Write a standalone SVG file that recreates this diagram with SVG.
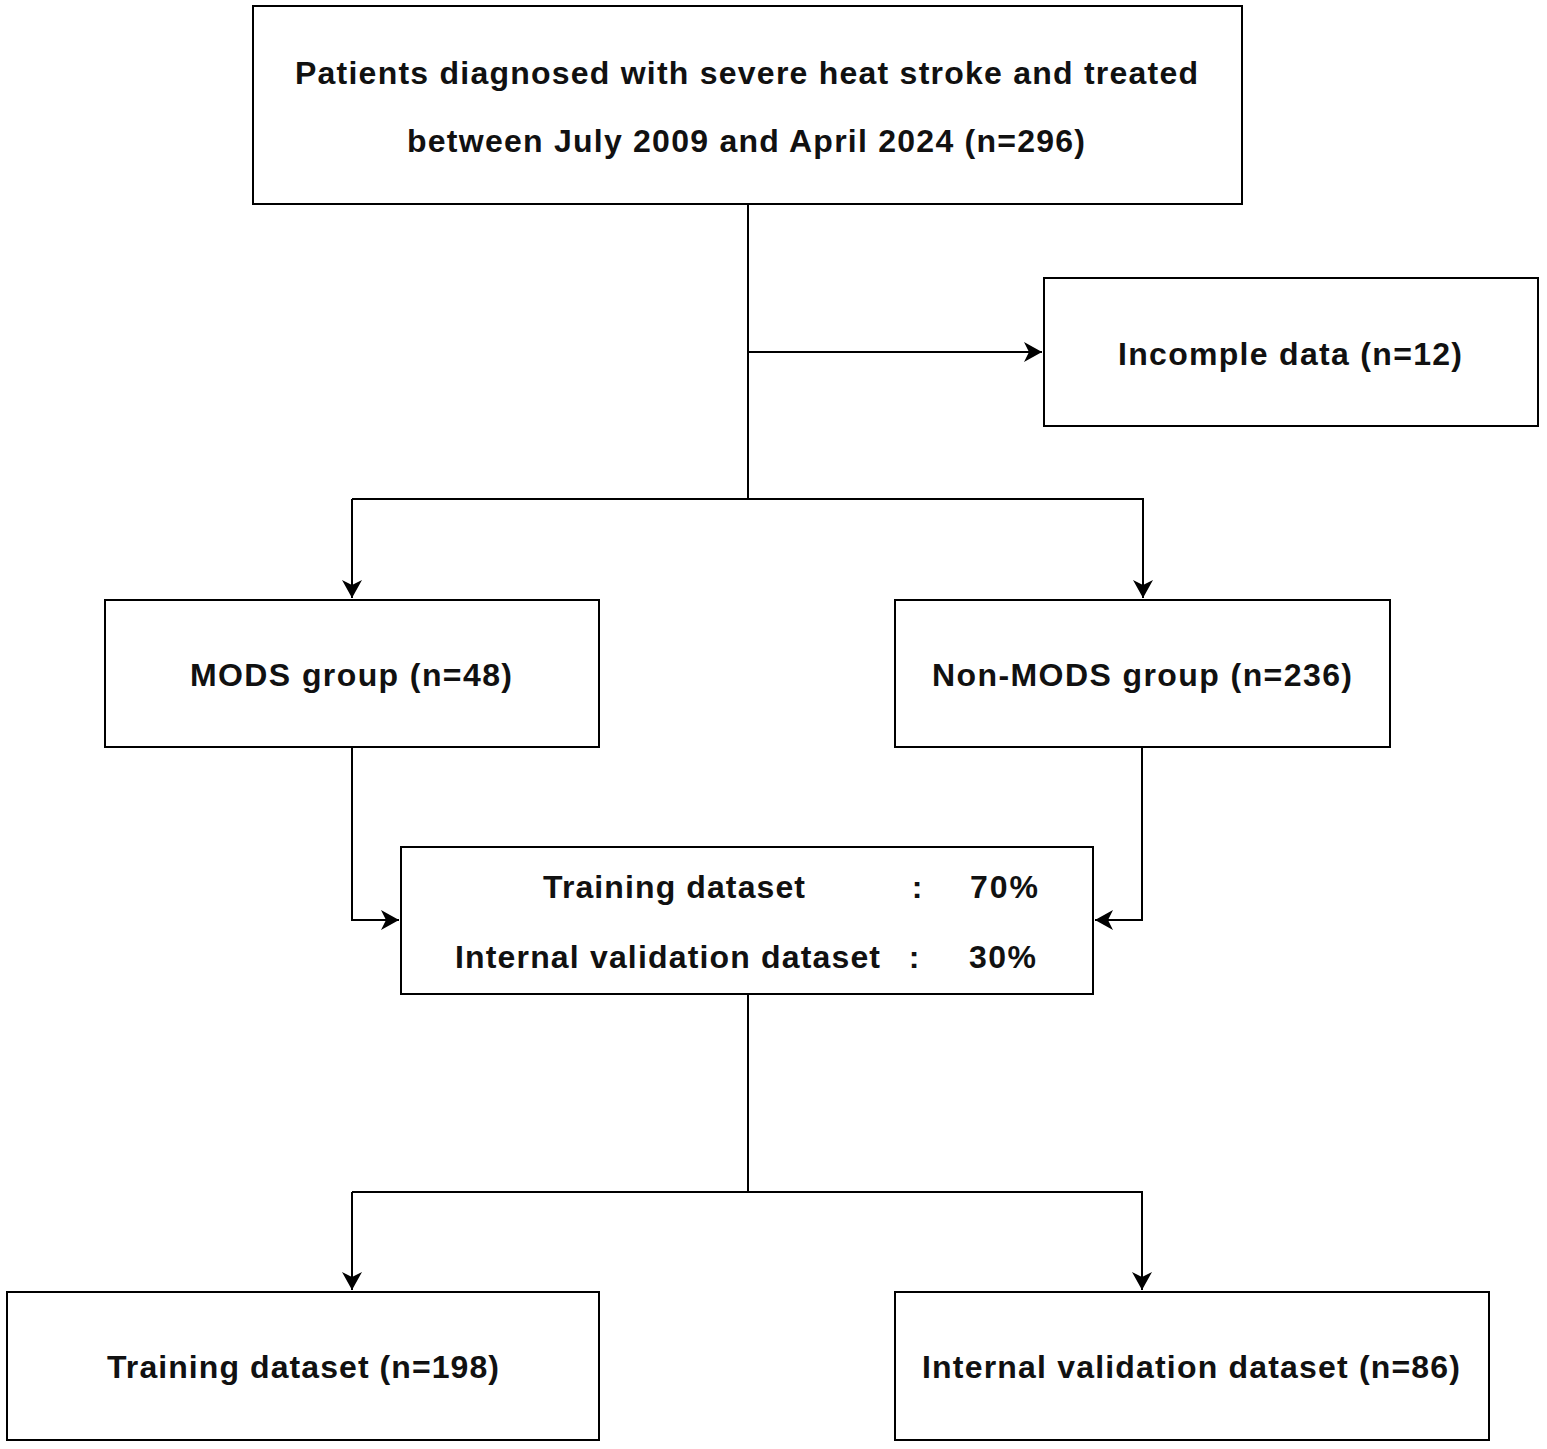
<svg xmlns="http://www.w3.org/2000/svg" width="1547" height="1449" viewBox="0 0 1547 1449">
<style>
.box{fill:#fff;stroke:#000;stroke-width:2}
.t{font-family:"Liberation Sans",Arial,sans-serif;font-weight:bold;font-size:32px;fill:#111}
.c{fill:none;stroke:#000;stroke-width:2}
</style>
<defs>
<marker id="ah" markerWidth="20" markerHeight="20" viewBox="0 0 20 20" refX="18" refY="10" orient="auto" markerUnits="userSpaceOnUse">
<path d="M0,0 L18,10 L0,20 L5,10 Z" fill="#000"/>
</marker>
</defs>
<rect width="1547" height="1449" fill="#fff"/>
<g id="connectors">
<path class="c" d="M748,204 V499"/>
<path class="c" d="M748,352 H1042" marker-end="url(#ah)"/>
<path class="c" d="M352,499 H1143 V598" marker-end="url(#ah)"/>
<path class="c" d="M352,499 V598" marker-end="url(#ah)"/>
<path class="c" d="M352,747 V920 H399" marker-end="url(#ah)"/>
<path class="c" d="M1142,747 V920 H1095" marker-end="url(#ah)"/>
<path class="c" d="M748,994 V1192"/>
<path class="c" d="M352,1192 H1142 V1290" marker-end="url(#ah)"/>
<path class="c" d="M352,1192 V1290" marker-end="url(#ah)"/>
</g>
<g id="n_top">
<rect class="box" x="253" y="6" width="989" height="198"/>
<text class="t" x="746.5" y="84" text-anchor="middle" textLength="903" lengthAdjust="spacing">Patients diagnosed with severe heat stroke and treated</text>
<text class="t" x="746" y="152" text-anchor="middle" textLength="678" lengthAdjust="spacing">between July 2009 and April 2024 (n=296)</text>
</g>
<g id="n_incomplete">
<rect class="box" x="1044" y="278" width="494" height="148"/>
<text class="t" x="1290" y="365" text-anchor="middle" textLength="344" lengthAdjust="spacing">Incomple data (n=12)</text>
</g>
<g id="n_mods">
<rect class="box" x="105" y="600" width="494" height="147"/>
<text class="t" x="351" y="686" text-anchor="middle" textLength="322" lengthAdjust="spacing">MODS group (n=48)</text>
</g>
<g id="n_nonmods">
<rect class="box" x="895" y="600" width="495" height="147"/>
<text class="t" x="1142" y="686" text-anchor="middle" textLength="420" lengthAdjust="spacing">Non-MODS group (n=236)</text>
</g>
<g id="n_split">
<rect class="box" x="401" y="847" width="692" height="147"/>
<text class="t" x="543" y="898" textLength="262" lengthAdjust="spacing">Training dataset</text>
<text class="t" x="455" y="968" textLength="425" lengthAdjust="spacing">Internal validation dataset</text>
<text class="t" x="917" y="898" text-anchor="middle">:</text>
<text class="t" x="914" y="968" text-anchor="middle">:</text>
<text class="t" x="970" y="898" textLength="68" lengthAdjust="spacing">70%</text>
<text class="t" x="969" y="968" textLength="67" lengthAdjust="spacing">30%</text>
</g>
<g id="n_train">
<rect class="box" x="7" y="1292" width="592" height="148"/>
<text class="t" x="303" y="1378" text-anchor="middle" textLength="392" lengthAdjust="spacing">Training dataset (n=198)</text>
</g>
<g id="n_valid">
<rect class="box" x="895" y="1292" width="594" height="148"/>
<text class="t" x="1191" y="1378" text-anchor="middle" textLength="538" lengthAdjust="spacing">Internal validation dataset (n=86)</text>
</g>
</svg>
